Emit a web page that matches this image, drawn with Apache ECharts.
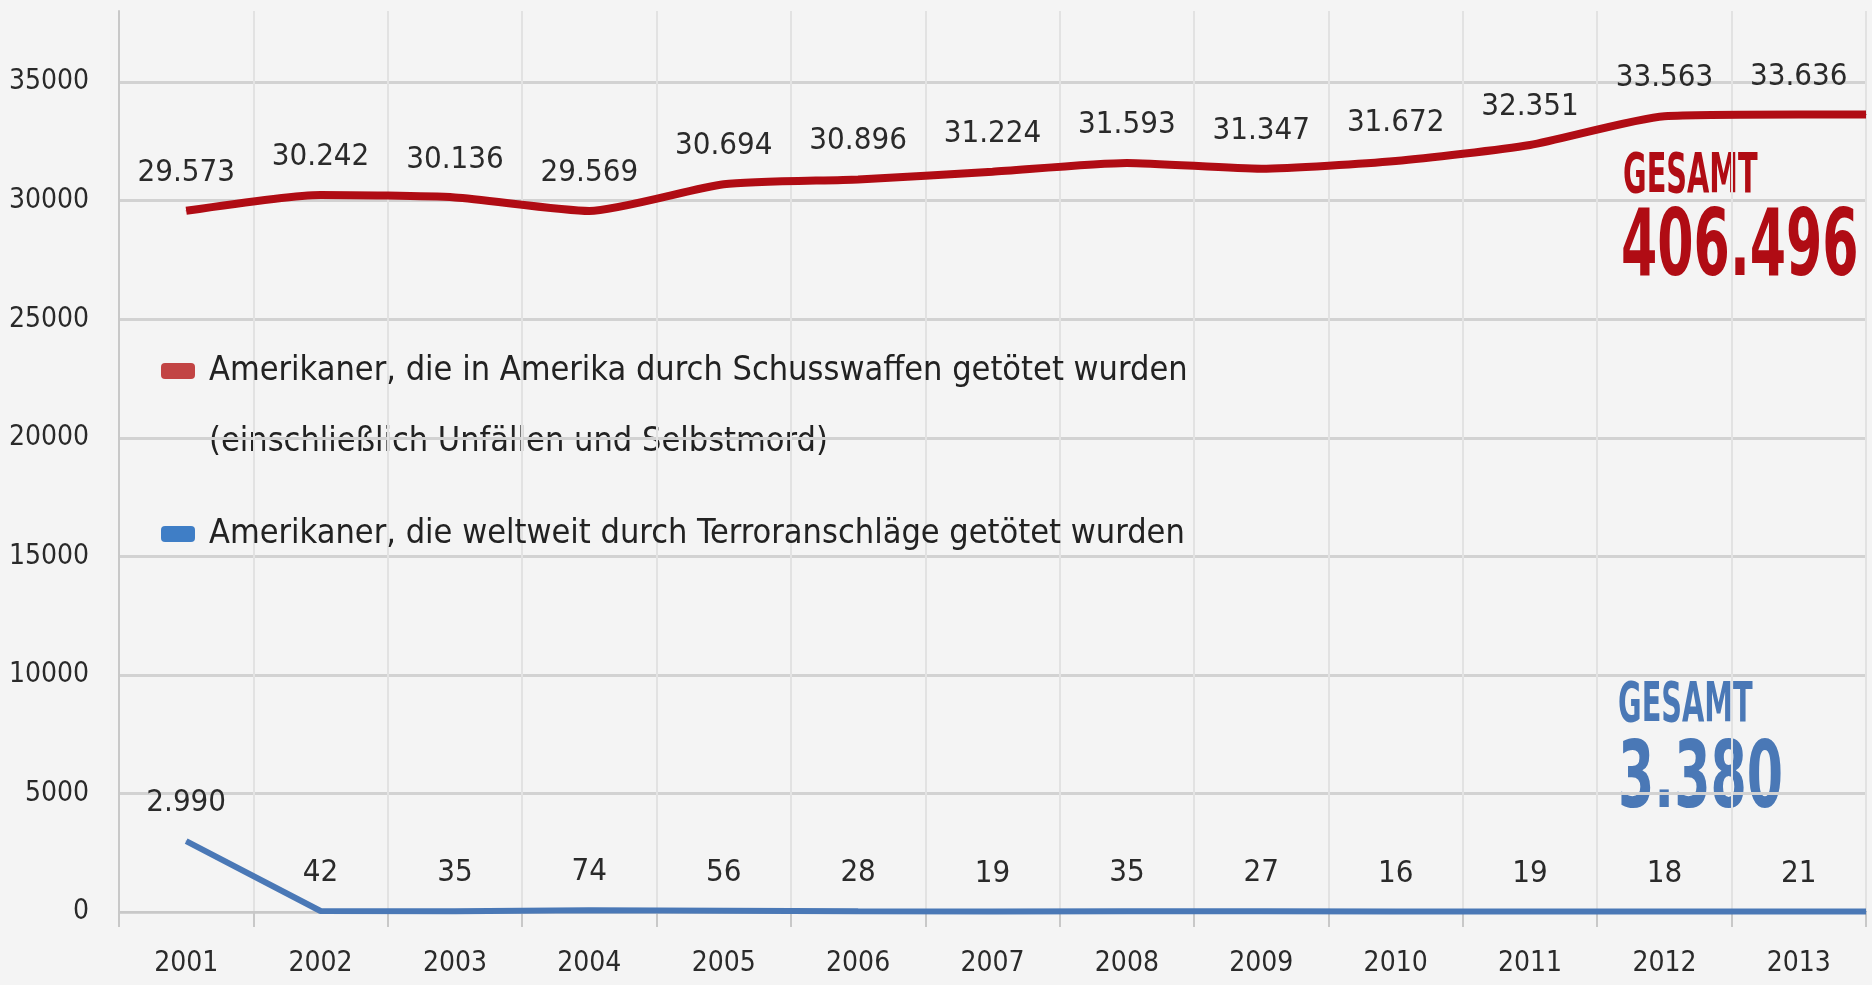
<!DOCTYPE html>
<html lang="de">
<head>
<meta charset="UTF-8">
<title>Schusswaffen vs. Terror</title>
<script src="https://cdn.jsdelivr.net/npm/echarts/dist/echarts.min.js"></script>
<style>
  html, body { margin: 0; padding: 0; background: #f4f4f4; }
  #chart { width: 1872px; height: 985px; }
</style>
</head>
<body>
<div id="chart"></div>
<script>
var years = ['2001', '2002', '2003', '2004', '2005', '2006', '2007', '2008', '2009', '2010', '2011', '2012', '2013'];
var gunDeaths = [29573, 30242, 30136, 29569, 30694, 30896, 31224, 31593, 31347, 31672, 32351, 33563, 33636];
var terrorDeaths = [2990, 42, 35, 74, 56, 28, 19, 35, 27, 16, 19, 18, 21];
var gunName = 'Amerikaner, die in Amerika durch Schusswaffen getötet wurden';
var gunNote = '(einschließlich Unfällen und Selbstmord)';
var terrorName = 'Amerikaner, die weltweit durch Terroranschläge getötet wurden';

var FONT = "'DejaVu Sans Condensed', 'DejaVu Sans', sans-serif";
var RED = '#b00c14';
var BLUE = '#4a78b6';

function fmt(v) {
    return String(v).replace(/\B(?=(\d{3})+(?!\d))/g, '.');
}
function sum(arr) {
    return arr.reduce(function (a, b) { return a + b; }, 0);
}
// points on a value axis so the line can run on to the right edge of the plot
function toPoints(arr) {
    var pts = arr.map(function (v, i) { return [i, v]; });
    pts.push({ value: [arr.length - 0.5, arr[arr.length - 1]], label: { show: false } });
    return pts;
}

var chart = echarts.init(document.getElementById('chart'));
var labelStyle = {
    show: true, position: 'top', distance: 22,
    fontFamily: FONT, fontSize: 31, color: '#2a2a2a',
    formatter: function (p) { return fmt(p.value[1]); }
};

// big "GESAMT" texts, stretched upward to match the tall condensed type
function bigText(text, x, y, size, stretch, color) {
    return {
        type: 'text', x: x, y: y, scaleY: stretch,
        style: { text: text, fontFamily: FONT, fontSize: size, fontWeight: 'bold', fill: color, verticalAlign: 'middle' }
    };
}

chart.setOption({
    backgroundColor: '#f4f4f4',
    animation: false,
    textStyle: { fontFamily: FONT },
    grid: { left: 119, right: 6, top: 11, bottom: 73 },
    legend: {
        orient: 'vertical', left: 161, top: 350, padding: 0,
        icon: 'roundRect', itemWidth: 34, itemHeight: 16, itemGap: 121,
        textStyle: { fontFamily: FONT, fontSize: 34, color: '#222', lineHeight: 42, padding: [0, 0, 0, 9] },
        data: [
            { name: gunName, itemStyle: { color: '#c24444' } },
            { name: terrorName, itemStyle: { color: '#3f7ec6' } }
        ]
    },
    xAxis: [{
        type: 'category', data: years, boundaryGap: true,
        axisLine: { lineStyle: { color: '#c8c8c8', width: 2 } },
        axisTick: { show: true, length: 15, interval: 0, lineStyle: { color: '#c8c8c8', width: 2 } },
        axisLabel: { fontFamily: FONT, fontSize: 28, color: '#2a2a2a', margin: 38, interval: 0 },
        splitLine: { show: true, interval: 0, lineStyle: { color: '#e2e2e2', width: 2 } }
    }, {
        type: 'value', min: -0.5, max: years.length - 0.5, show: false
    }],
    yAxis: {
        type: 'value', min: 0, max: 38000, interval: 5000,
        axisLine: { show: true, onZero: false, lineStyle: { color: '#c8c8c8', width: 2 } },
        axisTick: { show: false },
        axisLabel: { fontFamily: FONT, fontSize: 28, color: '#2a2a2a', margin: 30, showMaxLabel: false,
            formatter: function (v) { return String(v); } },
        splitLine: { show: true, showMaxLine: false, lineStyle: { color: '#d2d2d2', width: 3 } }
    },
    series: [{
        name: gunName, type: 'line', xAxisIndex: 1,
        data: toPoints(gunDeaths),
        smooth: 0.2, symbol: 'circle', symbolSize: 1, showSymbol: true,
        lineStyle: { color: RED, width: 8 },
        itemStyle: { color: RED },
        label: labelStyle,
        emphasis: { disabled: true }
    }, {
        name: terrorName, type: 'line', xAxisIndex: 1,
        data: toPoints(terrorDeaths),
        symbol: 'circle', symbolSize: 1, showSymbol: true,
        lineStyle: { color: BLUE, width: 6 },
        itemStyle: { color: BLUE },
        label: labelStyle,
        emphasis: { disabled: true }
    }],
    graphic: [
        { type: 'text', x: 209, y: 442, style: { text: gunNote, fontFamily: FONT, fontSize: 34, fill: '#222', verticalAlign: 'middle' } },
        bigText('GESAMT', 1623, 178, 32, 1.7, RED),
        bigText(fmt(sum(gunDeaths)), 1621, 251, 58, 1.6, RED),
        bigText('GESAMT', 1618, 707, 32, 1.7, BLUE),
        bigText(fmt(sum(terrorDeaths)), 1618, 783, 58, 1.6, BLUE)
    ]
});
</script>
</body>
</html>
